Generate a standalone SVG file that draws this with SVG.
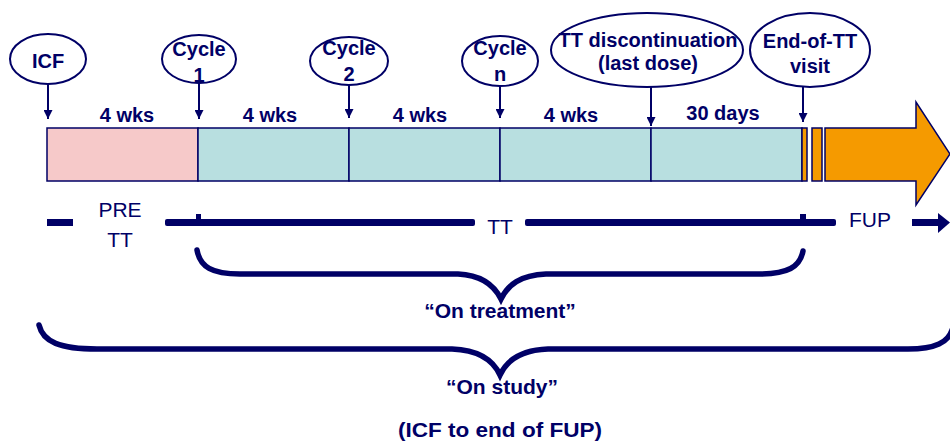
<svg xmlns="http://www.w3.org/2000/svg" width="950" height="447" viewBox="0 0 950 447">
<defs>
<style>
.t{font-family:"Liberation Sans",Arial,sans-serif;font-weight:bold;font-size:20px;fill:#000066;text-anchor:middle}
.r{font-family:"Liberation Sans",Arial,sans-serif;font-size:21px;fill:#000066;text-anchor:middle}
.el{fill:none;stroke:#000066;stroke-width:2}
.ln{stroke:#000066;stroke-width:2;fill:none}
.cell{stroke:#000066;stroke-width:1.5}
.br{fill:none;stroke:#000066;stroke-width:5.5;stroke-linecap:round}
</style>
<marker id="ah" viewBox="0 0 10 10" refX="10" refY="5" markerWidth="9" markerHeight="9" markerUnits="userSpaceOnUse" orient="auto">
<path d="M0,0 L10,5 L0,10 Z" fill="#000066"/>
</marker>
</defs>
<rect width="950" height="447" fill="#ffffff"/>

<g id="timeline-bar">
<rect class="cell" x="47" y="128" width="151" height="53" fill="#F6C9C9"/>
<rect class="cell" x="198" y="128" width="151" height="53" fill="#B8DFE0"/>
<rect class="cell" x="349" y="128" width="151" height="53" fill="#B8DFE0"/>
<rect class="cell" x="500" y="128" width="151" height="53" fill="#B8DFE0"/>
<rect class="cell" x="651" y="128" width="151" height="53" fill="#B8DFE0"/>
<rect class="cell" x="802" y="128" width="5" height="53" fill="#F59A00"/>
<rect class="cell" x="812" y="128" width="10" height="53" fill="#F59A00"/>
<polygon class="cell" points="825,128 916,128 916,102 950,154 916,205 916,181 825,181" fill="#F59A00"/>
</g>

<g id="icf">
<ellipse class="el" cx="48" cy="59" rx="38" ry="25"/>
<text class="t" x="48" y="68">ICF</text>
</g>
<g id="cycle1">
<ellipse class="el" cx="199" cy="59" rx="37" ry="24"/>
<text class="t" x="199" y="56">Cycle</text>
<text class="t" x="199" y="82">1</text>
</g>
<g id="cycle2">
<ellipse class="el" cx="349" cy="61" rx="39" ry="24"/>
<text class="t" x="349" y="55">Cycle</text>
<text class="t" x="349" y="81">2</text>
</g>
<g id="cyclen">
<ellipse class="el" cx="500" cy="61" rx="38" ry="25"/>
<text class="t" x="500" y="55">Cycle</text>
<text class="t" x="500" y="81">n</text>
</g>
<g id="tt-discontinuation">
<ellipse class="el" cx="647" cy="50" rx="96" ry="37"/>
<text class="t" x="648" y="47">TT discontinuation</text>
<text class="t" x="648" y="70">(last dose)</text>
</g>
<g id="end-of-tt">
<ellipse class="el" cx="810" cy="50" rx="60" ry="37"/>
<text class="t" x="810" y="48">End-of-TT</text>
<text class="t" x="810" y="73">visit</text>
</g>

<g id="durations">
<text class="t" x="127" y="122">4 wks</text>
<text class="t" x="270" y="122">4 wks</text>
<text class="t" x="420" y="122">4 wks</text>
<text class="t" x="571" y="122">4 wks</text>
<text class="t" x="723" y="120">30 days</text>
</g>

<g id="connectors">
<line class="ln" x1="48" y1="84" x2="48" y2="119" marker-end="url(#ah)"/>
<line class="ln" x1="199" y1="83" x2="199" y2="119" marker-end="url(#ah)"/>
<line class="ln" x1="349" y1="85" x2="349" y2="118" marker-end="url(#ah)"/>
<line class="ln" x1="500" y1="86" x2="500" y2="118" marker-end="url(#ah)"/>
<line class="ln" x1="651" y1="87" x2="651" y2="126" marker-end="url(#ah)"/>
<line class="ln" x1="803" y1="87" x2="803" y2="122" marker-end="url(#ah)"/>
</g>

<g id="phase-line">
<rect x="47" y="219" width="26" height="7" fill="#000066"/>
<rect x="165" y="219" width="310" height="7" rx="2" fill="#000066"/>
<rect x="525" y="219" width="311" height="7" rx="2" fill="#000066"/>
<rect x="912" y="219" width="28" height="7" fill="#000066"/>
<polygon points="938,213 950,222.5 938,233" fill="#000066"/>
<rect x="196" y="214" width="5" height="6" fill="#000066"/>
<rect x="800" y="214" width="6" height="6" fill="#000066"/>
<text class="r" x="120" y="217">PRE</text>
<text class="r" x="120" y="247">TT</text>
<text class="r" x="500" y="234">TT</text>
<text class="r" x="870" y="227">FUP</text>
</g>

<g id="on-treatment">
<path class="br" d="M197,250 C200,267 212,274 240,274 L458,274 C482,275 494,285 501,299 C508,285 520,275 546,274 L758,274 C788,274 800,267 803,251"/>
<text class="t" x="500" y="318" style="font-size:21px">“On treatment”</text>
</g>

<g id="on-study">
<path class="br" d="M39,325 C43,342 60,349 97,349 L452,349 C480,350 494,362 500,375 C506,362 520,350 548,349 L908,349 C936,349 948,342 952,330"/>
<text class="t" x="502" y="394" style="font-size:21px">“On study”</text>
<text class="t" x="500" y="437" style="font-size:21px" textLength="204" lengthAdjust="spacingAndGlyphs">(ICF to end of FUP)</text>
</g>
</svg>
